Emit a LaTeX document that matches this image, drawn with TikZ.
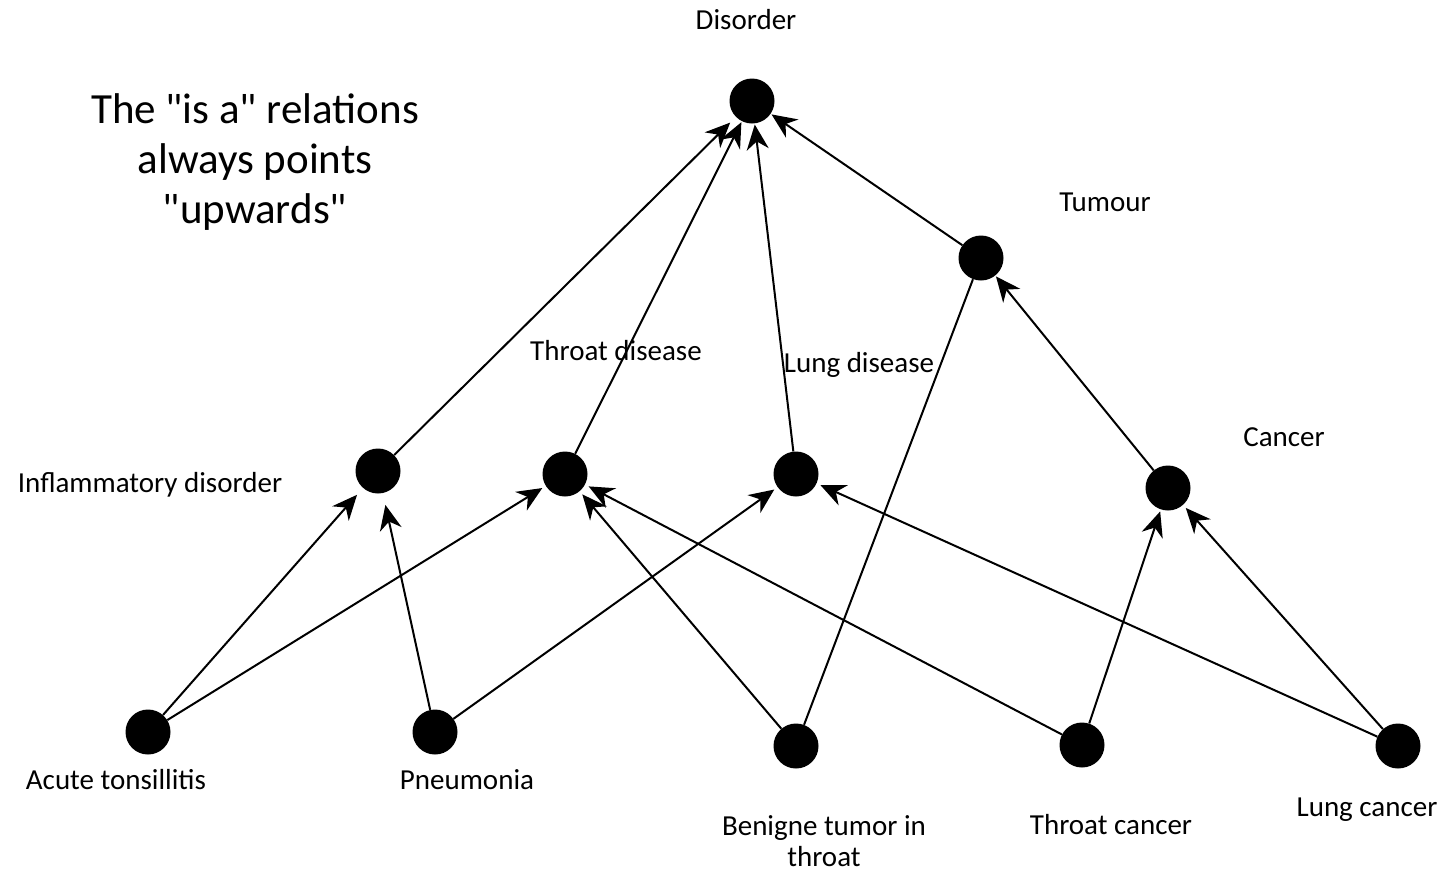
\documentclass[tikz,border=0pt]{standalone}
\usepackage{fontspec}
\setmainfont{Carlito}[Ligatures=TeXOff]
\usetikzlibrary{arrows.meta}
\begin{document}
\begin{tikzpicture}[x=1pt,y=-1pt,
  concept/.style={circle,fill=black,minimum size=45pt,inner sep=0pt},
  lbl/.style={font=\fontsize{29}{31}\selectfont,align=center},
  isa/.style={line width=2pt,-{Stealth[length=25pt,width=22pt,inset=8pt]},shorten >=4pt},
  plain/.style={line width=2pt}]
\useasboundingbox (0,0) rectangle (1447,873);

% concepts
\node[concept] (dis) at (752,101) {};
\node[concept] (tum) at (981,258) {};
\node[concept] (thr) at (565,474) {};
\node[concept] (lun) at (796,474) {};
\node[concept] (inf) at (378,471) {};
\node[concept] (can) at (1168,488) {};
\node[concept] (acu) at (148,732) {};
\node[concept] (pne) at (435,732) {};
\node[concept] (ben) at (796,746) {};
\node[concept] (thc) at (1082,745) {};
\node[concept] (luc) at (1398,746) {};

% names
\node[lbl] (disL) at (746,20) {Disorder};
\node[lbl] (tumL) at (1105,202) {Tumour};
\node[lbl] (thrL) at (616,351) {Throat disease};
\node[lbl] (lunL) at (859,365) {Lung disease};
\node[lbl] (infL) at (150,485) {Inflammatory disorder};
\node[lbl] (canL) at (1284,437) {Cancer};
\node[lbl] (acuL) at (116,780) {Acute tonsillitis};
\node[lbl] (pneL) at (467,780) {Pneumonia};
\node[lbl] (benL) at (824,841) {Benigne tumor in\\throat};
\node[lbl] (thcL) at (1111,825) {Throat cancer};
\node[lbl] (lucL) at (1367,810) {Lung cancer};

\node[font=\fontsize{43}{50}\selectfont,align=center] (note) at (255,162)
  {The "is a" relations\\always points\\"upwards"};

% is-a relations
\draw[isa,shorten >=8pt] (inf) -- (dis);
\draw[isa,shorten >=1pt] (thr) -- (dis);
\draw[isa,shorten >=1pt] (lun) -- (dis);
\draw[isa,shorten >=1pt] (tum) -- (dis);
\draw[isa,shorten >=1pt] (can) -- (tum);
\draw[isa,shorten >=9pt] (acu) -- (inf);
\draw[isa] (acu) -- (thr);
\draw[isa,shorten >=12pt] (pne) -- (inf);
\draw[isa] (pne) -- (lun);
\draw[isa] (ben) -- (thr);
\draw[plain] (ben) -- (tum);
\draw[isa] (thc) -- (thr);
\draw[isa,shorten >=2pt] (thc) -- (can);
\draw[isa] (luc) -- (lun);
\draw[isa] (luc) -- (can);
\end{tikzpicture}
\end{document}
